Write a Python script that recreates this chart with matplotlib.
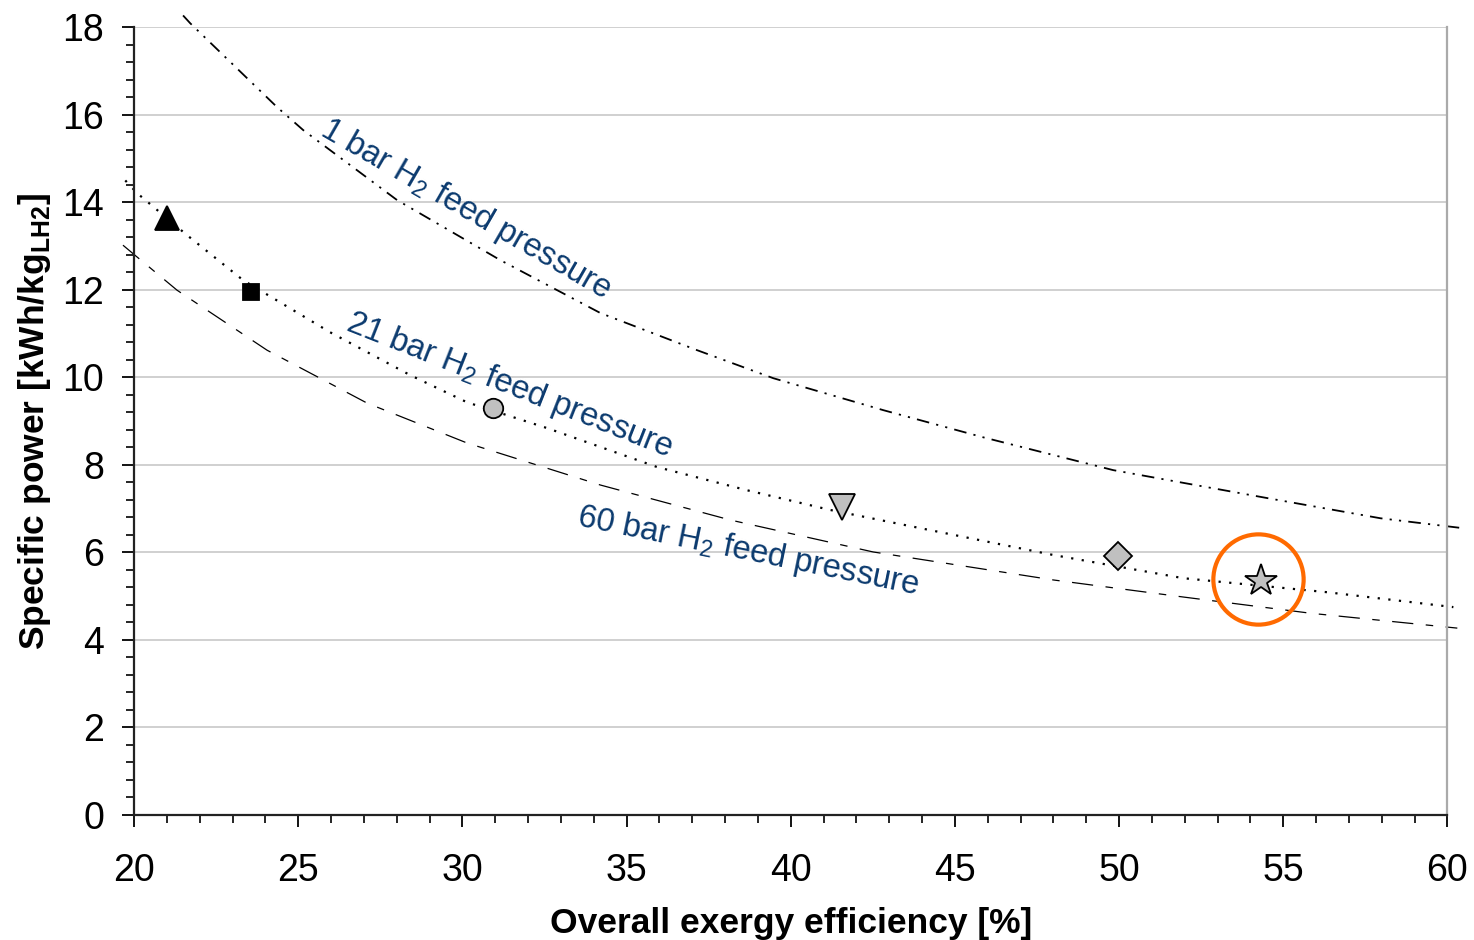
import numpy as np
import matplotlib; matplotlib.use('Agg')
import matplotlib.pyplot as plt
from matplotlib.ticker import MultipleLocator

plt.rcParams['font.family'] = ['Liberation Sans', 'DejaVu Sans']
plt.rcParams['mathtext.fontset'] = 'custom'
plt.rcParams['mathtext.rm'] = 'Liberation Sans'
plt.rcParams['mathtext.bf'] = 'Liberation Sans:bold'

# curves
eff_1bar = [21.49, 21.71, 24.36, 25.15, 28.01, 31.15, 34.2, 37.15, 39.47, 42.82, 45.86, 49.82, 54.52, 57.96, 60.4]
pow_1bar = [18.27, 18.09, 16.17, 15.65, 14.05, 12.68, 11.47, 10.62, 9.98, 9.25, 8.63, 7.88, 7.24, 6.78, 6.56]
eff_21bar = [19.73, 20.09, 21.61, 23.32, 25.97, 28.41, 30.14, 32.58, 35.93, 38.67, 41.2, 48.0, 51.96, 56.34, 60.18]
pow_21bar = [14.5, 14.21, 13.25, 12.22, 11.03, 10.05, 9.43, 8.84, 7.95, 7.42, 6.97, 5.94, 5.41, 5.09, 4.75]
eff_60bar = [19.66, 20.09, 21.31, 24.05, 27.1, 30.14, 34.2, 38.16, 42.51, 48.0, 51.96, 55.83, 60.3]
pow_60bar = [13.02, 12.75, 11.99, 10.62, 9.41, 8.5, 7.54, 6.74, 6.01, 5.37, 4.98, 4.61, 4.27]

# individual processes
pt_eff = [21.0, 23.56, 30.94, 41.57, 49.98, 54.33]
pt_pow = [13.64, 11.95, 9.3, 7.04, 5.92, 5.35]
pt_marker = ['^', 's', 'o', 'v', 'D', '*']
pt_color = ['black', 'black', '#c0c0c0', '#c0c0c0', '#c0c0c0', '#c0c0c0']
pt_size = [17, 12, 14, 19, 14, 24]

# highlighted process
ring_eff, ring_pow = 54.24, 5.39

fig, ax = plt.subplots(figsize=(14.74, 9.40), dpi=100)
fig.subplots_adjust(left=0.091, right=0.982, top=0.971, bottom=0.133)

ax.plot(eff_1bar, pow_1bar, color='black', lw=1.3, dashes=(7, 4, 1.2, 4, 1.2, 4), clip_on=False)
ax.plot(eff_21bar, pow_21bar, color='black', lw=1.6, dashes=(1.0, 3.8), clip_on=False)
ax.plot(eff_60bar, pow_60bar, color='black', lw=0.9, dashes=(17, 10, 6, 10), clip_on=False)

for x, y, m, c, s in zip(pt_eff, pt_pow, pt_marker, pt_color, pt_size):
    ax.plot(x, y, marker=m, color=c, markeredgecolor='black', markersize=s, mew=1.3, ls='none', zorder=5)

ax.plot(ring_eff, ring_pow, marker='o', markersize=65, mfc='none', mec='#ff6a00', mew=3.0, zorder=6)

lab_col = '#0b3a6e'
ax.text(25.6, 15.55, '1 bar H$_2$ feed pressure', rotation=-30, color=lab_col, fontsize=23.5,
        ha='left', va='baseline', rotation_mode='anchor')
ax.text(26.4, 11.1, '21 bar H$_2$ feed pressure', rotation=-21.5, color=lab_col, fontsize=23.5,
        ha='left', va='baseline', rotation_mode='anchor')
ax.text(33.45, 6.62, '60 bar H$_2$ feed pressure', rotation=-11.5, color=lab_col, fontsize=23.5,
        ha='left', va='baseline', rotation_mode='anchor')

ax.set_xlim(20, 60)
ax.set_ylim(0, 18)
ax.xaxis.set_major_locator(MultipleLocator(5))
ax.xaxis.set_minor_locator(MultipleLocator(1))
ax.yaxis.set_major_locator(MultipleLocator(2))
ax.yaxis.set_minor_locator(MultipleLocator(0.4))
ax.grid(axis='y', which='major', color='#c8c8c8', lw=1.2)
ax.set_axisbelow(True)
ax.tick_params(which='major', direction='out', length=8.5, width=1.3, labelsize=27)
ax.tick_params(which='minor', direction='out', length=6, width=1.2)
ax.tick_params(axis='x', which='major', pad=19)
ax.tick_params(axis='y', which='major', pad=13)
for s in ['left', 'bottom']:
    ax.spines[s].set_linewidth(1.6)
    ax.spines[s].set_color('#222222')
ax.spines['top'].set_visible(False)
ax.spines['right'].set_color('#aaaaaa')
ax.spines['right'].set_linewidth(1.6)

ax.set_xlabel('Overall exergy efficiency [%]', fontsize=25.5, fontweight='bold', labelpad=13)
ax.set_ylabel(r'Specific power [kWh/kg$_{\mathbf{LH2}}$]', fontsize=25.5, fontweight='bold', labelpad=7)

plt.savefig('out.png', dpi=100)
